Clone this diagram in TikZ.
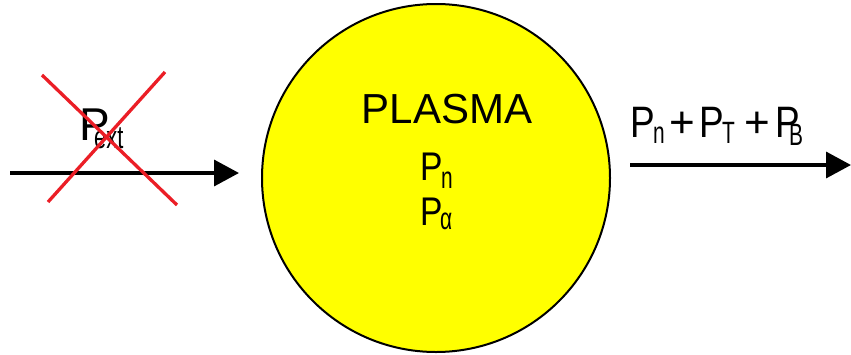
\documentclass[tikz,border=0pt]{standalone}
\usepackage{fontspec}
\setmainfont{Liberation Sans}
\usetikzlibrary{arrows.meta}
\definecolor{plasmayellow}{RGB}{255,255,0}
\definecolor{crossred}{RGB}{235,30,38}
\tikzset{
  txt/.style={inner sep=0pt, anchor=base west},
  bigP/.style={txt, font=\fontsize{40}{40}\selectfont},
  sub/.style={txt, font=\fontsize{22}{22}\selectfont},
  flow/.style={line width=3.5pt, -{Triangle[length=25pt,width=26pt]}},
  cross/.style={crossred, line width=3.3pt}
}
\newcommand{\condP}{\scalebox{0.84}[1]{P}}
\newcommand{\tallsub}[1]{\scalebox{0.95}[1.4]{#1}}
\begin{document}
\begin{tikzpicture}[x=1pt,y=-1pt]
\useasboundingbox (0,0) rectangle (851,354);
% plasma
\node[circle, draw=black, line width=2pt, fill=plasmayellow, minimum size=348pt, inner sep=0pt] (plasma) at (436,178) {};
\node[inner sep=0pt, anchor=base, font=\fontsize{42}{42}\selectfont] (title) at (447,123) {PLASMA};
\node[bigP] (pn) at (420,180) {\condP};
\node[sub] (pnsub) at (441,188) {\tallsub{n}};
\node[bigP] (pa) at (420,225) {\condP};
\node[sub] (pasub) at (440,229) {\tallsub{α}};
% input arrow
\coordinate (inA) at (10,173);
\coordinate (inB) at (239,173);
\draw[flow] (inA) -- (inB);
\node[txt, font=\fontsize{46}{46}\selectfont] (pext) at (79,140) {P};
\node[sub, font=\fontsize{23}{23}\selectfont] (pextsub) at (94,148) {\tallsub{ext}};
\coordinate (x1a) at (42,75);
\coordinate (x1b) at (177,205);
\coordinate (x2a) at (165,72);
\coordinate (x2b) at (48,202);
\draw[cross] (x1a) -- (x1b);
\draw[cross] (x2a) -- (x2b);
% output arrow
\coordinate (outA) at (630,165);
\coordinate (outB) at (851,165);
\draw[flow] (outA) -- (outB);
\node[bigP, font=\fontsize{44}{44}\selectfont] (o1) at (630,137) {\condP};
\node[sub] (o1s) at (653,143) {\tallsub{n}};
\node[txt, font=\fontsize{44}{44}\selectfont] (plus1) at (669,137) {+};
\node[bigP, font=\fontsize{44}{44}\selectfont] (o2) at (699,137) {\condP};
\node[sub] (o2s) at (722,143) {\tallsub{T}};
\node[txt, font=\fontsize{44}{44}\selectfont] (plus2) at (744,137) {+};
\node[bigP, font=\fontsize{44}{44}\selectfont] (o3) at (775,137) {\condP};
\node[sub] (o3s) at (789,145) {\tallsub{B}};
\end{tikzpicture}
\end{document}
